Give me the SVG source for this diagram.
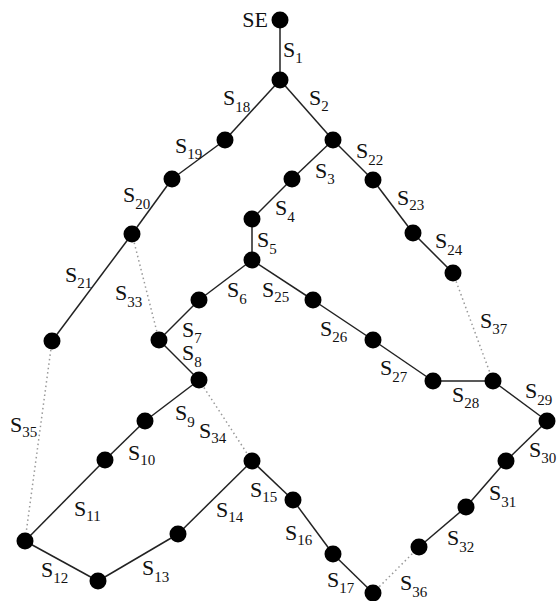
<svg xmlns="http://www.w3.org/2000/svg" width="557" height="601" viewBox="0 0 557 601">
<style>
.n{fill:#000}
.e{stroke:#222;stroke-width:1.5;fill:none}
.d{stroke:#999;stroke-width:1.5;stroke-dasharray:1.5 3;fill:none}
text{font-family:"Liberation Serif","Times New Roman",serif;font-size:22px;fill:#111}
.sub{font-size:15px}
</style>
<rect width="557" height="601" fill="#fff"/>
<g id="connectors">
<line class="e" x1="280" y1="20" x2="280" y2="80"/>
<line class="e" x1="280" y1="80" x2="333" y2="140"/>
<line class="e" x1="333" y1="140" x2="292" y2="179"/>
<line class="e" x1="292" y1="179" x2="252" y2="219"/>
<line class="e" x1="252" y1="219" x2="252" y2="260"/>
<line class="e" x1="252" y1="260" x2="199" y2="300"/>
<line class="e" x1="199" y1="300" x2="159" y2="340"/>
<line class="e" x1="159" y1="340" x2="199" y2="380"/>
<line class="e" x1="199" y1="380" x2="145" y2="421"/>
<line class="e" x1="145" y1="421" x2="105" y2="460"/>
<line class="e" x1="105" y1="460" x2="25" y2="541"/>
<line class="e" x1="25" y1="541" x2="98" y2="581"/>
<line class="e" x1="98" y1="581" x2="178" y2="534"/>
<line class="e" x1="178" y1="534" x2="252" y2="461"/>
<line class="e" x1="252" y1="461" x2="293" y2="500"/>
<line class="e" x1="293" y1="500" x2="333" y2="554"/>
<line class="e" x1="333" y1="554" x2="373" y2="593"/>
<line class="e" x1="280" y1="80" x2="225" y2="140"/>
<line class="e" x1="225" y1="140" x2="172" y2="179"/>
<line class="e" x1="172" y1="179" x2="132" y2="234"/>
<line class="e" x1="132" y1="234" x2="52" y2="341"/>
<line class="e" x1="333" y1="140" x2="373" y2="180"/>
<line class="e" x1="373" y1="180" x2="413" y2="233"/>
<line class="e" x1="413" y1="233" x2="453" y2="273"/>
<line class="e" x1="252" y1="260" x2="313" y2="300"/>
<line class="e" x1="313" y1="300" x2="373" y2="340"/>
<line class="e" x1="373" y1="340" x2="433" y2="381"/>
<line class="e" x1="433" y1="381" x2="493" y2="381"/>
<line class="e" x1="493" y1="381" x2="547" y2="421"/>
<line class="e" x1="547" y1="421" x2="506" y2="461"/>
<line class="e" x1="506" y1="461" x2="466" y2="507"/>
<line class="e" x1="466" y1="507" x2="419" y2="547"/>
<line class="d" x1="132" y1="234" x2="159" y2="340"/>
<line class="d" x1="199" y1="380" x2="252" y2="461"/>
<line class="d" x1="52" y1="341" x2="25" y2="541"/>
<line class="d" x1="373" y1="593" x2="419" y2="547"/>
<line class="d" x1="453" y1="273" x2="493" y2="381"/>
</g>
<g id="labels">
<text x="283" y="57">S<tspan class="sub" dy="6">1</tspan></text>
<text x="309" y="105">S<tspan class="sub" dy="6">2</tspan></text>
<text x="315" y="178">S<tspan class="sub" dy="6">3</tspan></text>
<text x="275" y="215">S<tspan class="sub" dy="7">4</tspan></text>
<text x="257" y="247">S<tspan class="sub" dy="7">5</tspan></text>
<text x="227" y="297">S<tspan class="sub" dy="7">6</tspan></text>
<text x="182" y="337">S<tspan class="sub" dy="6">7</tspan></text>
<text x="182" y="360">S<tspan class="sub" dy="7">8</tspan></text>
<text x="175" y="420">S<tspan class="sub" dy="7">9</tspan></text>
<text x="128" y="460">S<tspan class="sub" dy="5">10</tspan></text>
<text x="74" y="516">S<tspan class="sub" dy="5">11</tspan></text>
<text x="41" y="577">S<tspan class="sub" dy="6">12</tspan></text>
<text x="142" y="575">S<tspan class="sub" dy="7">13</tspan></text>
<text x="216" y="517">S<tspan class="sub" dy="5">14</tspan></text>
<text x="250" y="497">S<tspan class="sub" dy="5">15</tspan></text>
<text x="285" y="540">S<tspan class="sub" dy="5">16</tspan></text>
<text x="327" y="587">S<tspan class="sub" dy="6">17</tspan></text>
<text x="223" y="105">S<tspan class="sub" dy="7">18</tspan></text>
<text x="175" y="153">S<tspan class="sub" dy="6">19</tspan></text>
<text x="123" y="202">S<tspan class="sub" dy="7">20</tspan></text>
<text x="65" y="282">S<tspan class="sub" dy="6">21</tspan></text>
<text x="356" y="158">S<tspan class="sub" dy="7">22</tspan></text>
<text x="397" y="205">S<tspan class="sub" dy="5">23</tspan></text>
<text x="435" y="248">S<tspan class="sub" dy="7">24</tspan></text>
<text x="262" y="297">S<tspan class="sub" dy="5">25</tspan></text>
<text x="320" y="336">S<tspan class="sub" dy="6">26</tspan></text>
<text x="380" y="375">S<tspan class="sub" dy="7">27</tspan></text>
<text x="452" y="402">S<tspan class="sub" dy="6">28</tspan></text>
<text x="525" y="398">S<tspan class="sub" dy="7">29</tspan></text>
<text x="529" y="457">S<tspan class="sub" dy="6">30</tspan></text>
<text x="489" y="500">S<tspan class="sub" dy="7">31</tspan></text>
<text x="447" y="545">S<tspan class="sub" dy="7">32</tspan></text>
<text x="115" y="300">S<tspan class="sub" dy="7">33</tspan></text>
<text x="199" y="438">S<tspan class="sub" dy="5">34</tspan></text>
<text x="10" y="432">S<tspan class="sub" dy="5">35</tspan></text>
<text x="400" y="590">S<tspan class="sub" dy="7">36</tspan></text>
<text x="480" y="328">S<tspan class="sub" dy="6">37</tspan></text>
</g>
<g id="nodeSE"><circle class="n" cx="280" cy="20" r="8.5"/><text x="268" y="27" text-anchor="end">SE</text></g>
<g id="n1"><circle class="n" cx="280" cy="80" r="8.5"/></g>
<g id="n2"><circle class="n" cx="333" cy="140" r="8.5"/></g>
<g id="n3"><circle class="n" cx="292" cy="179" r="8.5"/></g>
<g id="n4"><circle class="n" cx="252" cy="219" r="8.5"/></g>
<g id="n5"><circle class="n" cx="252" cy="260" r="8.5"/></g>
<g id="n6"><circle class="n" cx="199" cy="300" r="8.5"/></g>
<g id="n7"><circle class="n" cx="159" cy="340" r="8.5"/></g>
<g id="n8"><circle class="n" cx="199" cy="380" r="8.5"/></g>
<g id="n9"><circle class="n" cx="145" cy="421" r="8.5"/></g>
<g id="n10"><circle class="n" cx="105" cy="460" r="8.5"/></g>
<g id="n11"><circle class="n" cx="25" cy="541" r="8.5"/></g>
<g id="n12"><circle class="n" cx="98" cy="581" r="8.5"/></g>
<g id="n13"><circle class="n" cx="178" cy="534" r="8.5"/></g>
<g id="n14"><circle class="n" cx="252" cy="461" r="8.5"/></g>
<g id="n15"><circle class="n" cx="293" cy="500" r="8.5"/></g>
<g id="n16"><circle class="n" cx="333" cy="554" r="8.5"/></g>
<g id="n17"><circle class="n" cx="373" cy="593" r="8.5"/></g>
<g id="n18"><circle class="n" cx="225" cy="140" r="8.5"/></g>
<g id="n19"><circle class="n" cx="172" cy="179" r="8.5"/></g>
<g id="n20"><circle class="n" cx="132" cy="234" r="8.5"/></g>
<g id="n21"><circle class="n" cx="52" cy="341" r="8.5"/></g>
<g id="n22"><circle class="n" cx="373" cy="180" r="8.5"/></g>
<g id="n23"><circle class="n" cx="413" cy="233" r="8.5"/></g>
<g id="n24"><circle class="n" cx="453" cy="273" r="8.5"/></g>
<g id="n25"><circle class="n" cx="313" cy="300" r="8.5"/></g>
<g id="n26"><circle class="n" cx="373" cy="340" r="8.5"/></g>
<g id="n27"><circle class="n" cx="433" cy="381" r="8.5"/></g>
<g id="n28"><circle class="n" cx="493" cy="381" r="8.5"/></g>
<g id="n29"><circle class="n" cx="547" cy="421" r="8.5"/></g>
<g id="n30"><circle class="n" cx="506" cy="461" r="8.5"/></g>
<g id="n31"><circle class="n" cx="466" cy="507" r="8.5"/></g>
<g id="n32"><circle class="n" cx="419" cy="547" r="8.5"/></g>
</svg>
